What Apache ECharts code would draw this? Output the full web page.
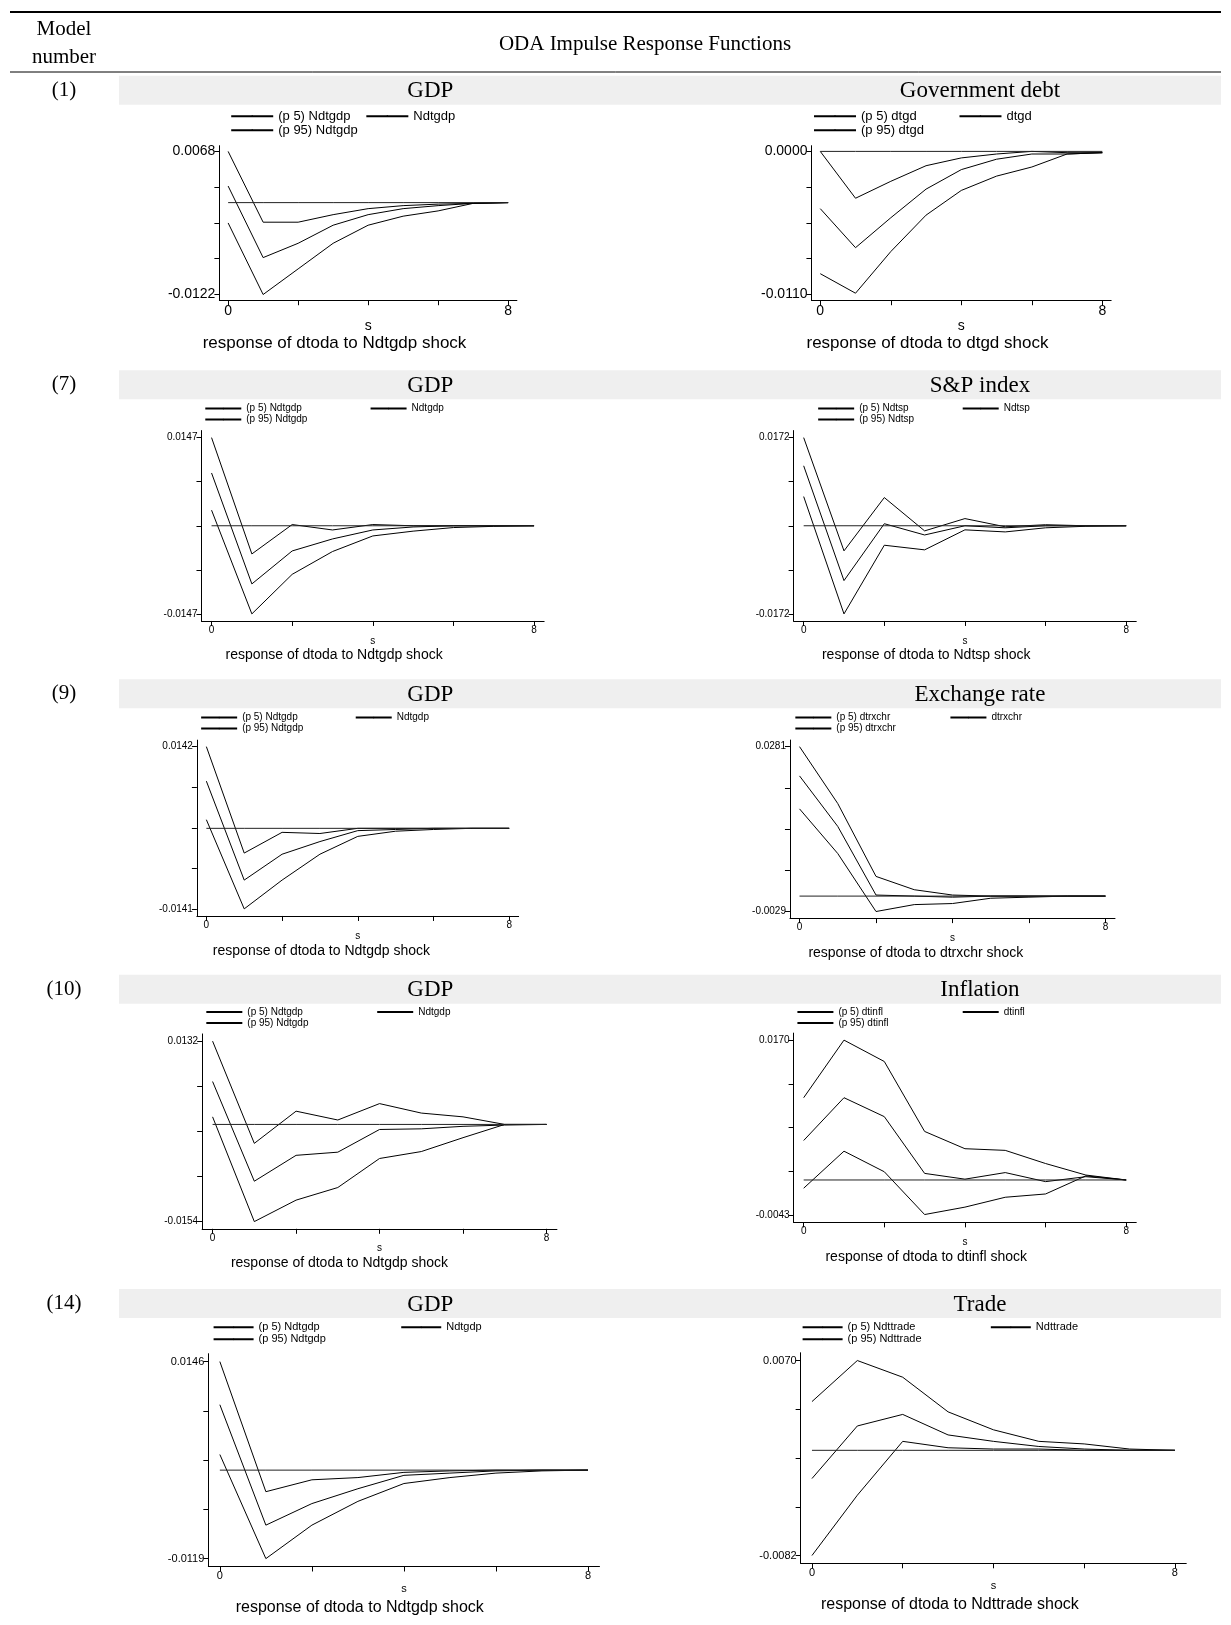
<!DOCTYPE html>
<html><head><meta charset="utf-8">
<script src="https://cdn.jsdelivr.net/npm/echarts@6/dist/echarts.min.js"></script>
<style>html,body{margin:0;padding:0;background:#fff}#c{width:1231px;height:1625px}</style>
</head><body><div id="c"></div>
<script>
// ---- data: impulse responses, steps 0..8 ----
var steps = [0, 1, 2, 3, 4, 5, 6, 7, 8];
var zero = [0, 0, 0, 0, 0, 0, 0, 0, 0];

var gdp1_hi  = [0.0068, -0.0026, -0.0026, -0.0016, -0.0008, -0.0004, -0.0002, -0.0001, 0];
var gdp1_mid = [0.0022, -0.0073, -0.0054, -0.0030, -0.0016, -0.0008, -0.0004, -0.0001, 0];
var gdp1_lo  = [-0.0027, -0.0122, -0.0088, -0.0054, -0.0030, -0.0018, -0.0011, -0.0001, 0];

var debt_hi  = [0.0000, -0.0036, -0.0023, -0.0011, -0.0005, -0.0002, 0.0000, -0.0001, -0.0001];
var debt_mid = [-0.0044, -0.0074, -0.0051, -0.0029, -0.0014, -0.0006, -0.0002, -0.0002, -0.0001];
var debt_lo  = [-0.0094, -0.0109, -0.0077, -0.0049, -0.0030, -0.0019, -0.0012, -0.0002, -0.0001];

var gdp7_hi  = [0.0147, -0.0047, 0.0002, -0.0007, 0.0002, 0.0000, 0.0000, 0, 0];
var gdp7_mid = [0.0088, -0.0097, -0.0042, -0.0022, -0.0007, -0.0002, 0.0000, 0, 0];
var gdp7_lo  = [0.0026, -0.0147, -0.0081, -0.0043, -0.0017, -0.0009, -0.0003, -0.0001, 0];

var sp_hi  = [0.0172, -0.0049, 0.0055, -0.0010, 0.0014, -0.0002, 0.0002, 0, 0];
var sp_mid = [0.0117, -0.0107, 0.0004, -0.0018, 0.0000, -0.0004, 0.0000, 0, 0];
var sp_lo  = [0.0057, -0.0172, -0.0038, -0.0047, -0.0008, -0.0012, -0.0004, -0.0001, 0];

var gdp9_hi  = [0.0142, -0.0043, -0.0007, -0.0009, 0.0000, 0, 0, 0, 0];
var gdp9_mid = [0.0082, -0.0090, -0.0045, -0.0023, -0.0004, -0.0002, 0, 0, 0];
var gdp9_lo  = [0.0015, -0.0140, -0.0090, -0.0045, -0.0014, -0.0005, -0.0002, 0, 0];

var fx_hi  = [0.0281, 0.0174, 0.0037, 0.0012, 0.0002, 0, 0, 0, 0];
var fx_mid = [0.0226, 0.0131, 0.0002, 0.0000, -0.0002, 0, 0, 0, 0];
var fx_lo  = [0.0164, 0.0080, -0.0029, -0.0016, -0.0014, -0.0004, -0.0002, 0, 0];

var gdp10_hi  = [0.0132, -0.0030, 0.0021, 0.0007, 0.0033, 0.0018, 0.0012, 0.0000, 0];
var gdp10_mid = [0.0068, -0.0090, -0.0049, -0.0044, -0.0008, -0.0007, -0.0003, -0.0001, 0];
var gdp10_lo  = [0.0012, -0.0154, -0.0120, -0.0100, -0.0054, -0.0043, -0.0021, 0.0000, 0];

var inf_hi  = [0.0100, 0.0170, 0.0144, 0.0059, 0.0038, 0.0036, 0.0020, 0.0006, 0];
var inf_mid = [0.0048, 0.0100, 0.0077, 0.0008, 0.0001, 0.0009, -0.0002, 0.0004, 0];
var inf_lo  = [-0.0010, 0.0035, 0.0010, -0.0042, -0.0033, -0.0021, -0.0017, 0.0005, 0];

var gdp14_hi  = [0.0146, -0.0029, -0.0013, -0.0010, -0.0003, -0.0001, 0, 0, 0];
var gdp14_mid = [0.0088, -0.0074, -0.0045, -0.0025, -0.0007, -0.0004, -0.0001, 0, 0];
var gdp14_lo  = [0.0021, -0.0119, -0.0074, -0.0042, -0.0018, -0.0010, -0.0004, -0.0001, 0];

var tr_hi  = [0.0038, 0.0070, 0.0057, 0.0030, 0.0016, 0.0007, 0.0005, 0.0001, 0];
var tr_mid = [-0.0022, 0.0019, 0.0028, 0.0012, 0.0007, 0.0003, 0.0001, 0, 0];
var tr_lo  = [-0.0082, -0.0035, 0.0007, 0.0002, 0.0001, 0.0001, 0, 0, 0];

var rowLabels = ['(1)', '(7)', '(9)', '(10)', '(14)'];
var bandY = [73, 357, 655, 940, 1243];   // band tops (layout units)

// panel layout (layout units, scaled by K below)
var panels = [
  {t:'GDP', v:'Ndtgdp', hi:gdp1_hi, mid:gdp1_mid, lo:gdp1_lo, ymin:-0.0122, ymax:0.0068, x0:220, x8:490, yt:146, yb:284, lx:222, ly:112, fs:'big'},
  {t:'Government debt', v:'dtgd', hi:debt_hi, mid:debt_mid, lo:debt_lo, ymin:-0.0110, ymax:0.0000, x0:791, x8:1063, yt:146, yb:284, lx:784, ly:112, fs:'big'},
  {t:'GDP', v:'Ndtgdp', hi:gdp7_hi, mid:gdp7_mid, lo:gdp7_lo, ymin:-0.0147, ymax:0.0147, x0:204, x8:515, yt:422, yb:592, lx:197, ly:394, fs:'small'},
  {t:'S&P index', v:'Ndtsp', hi:sp_hi, mid:sp_mid, lo:sp_lo, ymin:-0.0172, ymax:0.0172, x0:775, x8:1086, yt:422, yb:592, lx:788, ly:394, fs:'small'},
  {t:'GDP', v:'Ndtgdp', hi:gdp9_hi, mid:gdp9_mid, lo:gdp9_lo, ymin:-0.0141, ymax:0.0142, x0:199, x8:491, yt:720, yb:877, lx:193, ly:692, fs:'small'},
  {t:'Exchange rate', v:'dtrxchr', hi:fx_hi, mid:fx_mid, lo:fx_lo, ymin:-0.0029, ymax:0.0281, x0:771, x8:1066, yt:720, yb:879, lx:766, ly:692, fs:'small'},
  {t:'GDP', v:'Ndtgdp', hi:gdp10_hi, mid:gdp10_mid, lo:gdp10_lo, ymin:-0.0154, ymax:0.0132, x0:205, x8:527, yt:1004, yb:1178, lx:198, ly:976, fs:'small'},
  {t:'Inflation', v:'dtinfl', hi:inf_hi, mid:inf_mid, lo:inf_lo, ymin:-0.0043, ymax:0.0170, x0:775, x8:1086, yt:1003, yb:1172, lx:768, ly:976, fs:'small'},
  {t:'GDP', v:'Ndtgdp', hi:gdp14_hi, mid:gdp14_mid, lo:gdp14_lo, ymin:-0.0119, ymax:0.0146, x0:212, x8:567, yt:1313, yb:1503, lx:205, ly:1280, fs:'mid'},
  {t:'Trade', v:'Ndttrade', hi:tr_hi, mid:tr_mid, lo:tr_lo, ymin:-0.0082, ymax:0.0070, x0:783, x8:1133, yt:1312, yb:1500, lx:773, ly:1280, fs:'mid'}
];

var K = 1.037;
var SANS = 'Liberation Sans', SERIF = 'Liberation Serif';
var FS = {
  big:   {leg: 13, tick: 14, cap: 17, line: 42, capDy: 47, nGap: 16},
  small: {leg: 10, tick: 10, cap: 14, line: 36, capDy: 40, nGap: 13},
  mid:   {leg: 11, tick: 11, cap: 16, line: 40, capDy: 47, nGap: 17}
};

var grids = [], xAxes = [], yAxes = [], series = [], legends = [], graphics = [];

// table frame
graphics.push({type:'line', shape:{x1:10, y1:12, x2:1221, y2:12}, style:{stroke:'#000', lineWidth:2}});
graphics.push({type:'line', shape:{x1:10, y1:72, x2:1221, y2:72}, style:{stroke:'#000', lineWidth:1}});
graphics.push({type:'text', x:64, y:29, style:{text:'Model', font:'21px ' + SERIF, fill:'#000', textAlign:'center', textVerticalAlign:'middle'}});
graphics.push({type:'text', x:64, y:57, style:{text:'number', font:'21px ' + SERIF, fill:'#000', textAlign:'center', textVerticalAlign:'middle'}});
graphics.push({type:'text', x:645, y:44, style:{text:'ODA Impulse Response Functions', font:'21px ' + SERIF, fill:'#000', textAlign:'center', textVerticalAlign:'middle'}});

rowLabels.forEach(function (lab, r) {
  var top = bandY[r] * K;
  graphics.push({type:'rect', shape:{x:119, y:top, width:1102, height:28 * K}, style:{fill:'#efefef'}, z:-1});
  graphics.push({type:'text', x:64, y:top + 14 * K, style:{text:lab, font:'21px ' + SERIF, fill:'#000', textAlign:'center', textVerticalAlign:'middle'}});
});

panels.forEach(function (p, i) {
  var f = FS[p.fs];
  var r = Math.floor(i / 2);
  var x0 = p.x0 * K, x8 = p.x8 * K, yt = p.yt * K, yb = p.yb * K;
  var step = (x8 - x0) / 8, span = p.ymax - p.ymin, hpx = yb - yt;
  var pad = 0.04;
  grids.push({left: x0 - 0.25 * step, width: 8.5 * step, top: yt - pad * hpx, height: hpx * (1 + 2 * pad)});

  var yt5 = [0, 1, 2, 3, 4].map(function (k) { return p.ymin + span * k / 4; });
  xAxes.push({
    type:'value', gridIndex:i, min:-0.25, max:8.25,
    axisLine:{show:true, onZero:false, lineStyle:{color:'#000', width:1}},
    axisTick:{show:true, length:5, customValues:[0, 2, 4, 6, 8], lineStyle:{color:'#000'}},
    axisLabel:{customValues:[0, 8], fontFamily:SANS, fontSize:f.tick, color:'#000', margin:4},
    splitLine:{show:false},
    name:'s', nameLocation:'middle', nameGap:f.nGap,
    nameTextStyle:{fontFamily:SANS, fontSize:f.tick, color:'#000'}
  });
  yAxes.push({
    type:'value', gridIndex:i, min:p.ymin - pad * span, max:p.ymax + pad * span,
    axisLine:{show:true, onZero:false, lineStyle:{color:'#000', width:1}},
    axisTick:{show:true, length:5, customValues:yt5, lineStyle:{color:'#000'}},
    axisLabel:{customValues:[p.ymin, p.ymax], fontFamily:SANS, fontSize:f.tick, color:'#000', margin:4,
      formatter:function (v) { return v.toFixed(4); }},
    splitLine:{show:false}
  });

  var n5 = '(p 5) ' + p.v, n95 = '(p 95) ' + p.v, nm = p.v;
  function mk(name, vals, color) {
    return {
      type:'line', name:name, xAxisIndex:i, yAxisIndex:i, symbol:'none', silent:true,
      data:steps.map(function (s, k) { return [s, vals[k]]; }),
      lineStyle:{color:color, width:1}, itemStyle:{color:color}
    };
  }
  series.push(mk(n95, p.hi, '#000'));
  series.push(mk(nm, p.mid, '#000'));
  series.push(mk(n5, p.lo, '#000'));
  series.push(mk('zero' + i, zero, '#222'));

  var legText = {fontFamily:SANS, fontSize:f.leg, color:'#000', lineHeight:f.leg};
  legends.push({data:[n5, n95], orient:'vertical', left:p.lx * K, top:p.ly * K - f.leg / 2,
    itemWidth:f.line, itemHeight:2, itemGap:1, padding:0, textStyle:legText, selectedMode:false});
  legends.push({data:[nm], left:(p.x0 + 0.49 * (p.x8 - p.x0)) * K, top:p.ly * K - f.leg / 2,
    itemWidth:f.line, itemHeight:2, padding:0, textStyle:legText, selectedMode:false});

  // panel title in band, caption under the plot
  var bandTop = bandY[r] * K;
  var cx = i % 2 === 0 ? 415 * K : 945 * K;
  graphics.push({type:'text', x:cx, y:bandTop + 15 * K, style:{text:p.t, font:'23px ' + SERIF, fill:'#000', textAlign:'center', textVerticalAlign:'middle'}});
  graphics.push({type:'text', x:x0 + 0.38 * (x8 - x0), y:(p.yb + f.capDy) * K,
    style:{text:'response of dtoda to ' + p.v + ' shock', font:f.cap + 'px ' + SANS, fill:'#000', textAlign:'center', textVerticalAlign:'middle'}});
});

var chart = echarts.init(document.getElementById('c'));
chart.setOption({
  animation:false,
  backgroundColor:'#fff',
  grid:grids, xAxis:xAxes, yAxis:yAxes, series:series, legend:legends,
  graphic:{elements:graphics}
});
</script></body></html>
